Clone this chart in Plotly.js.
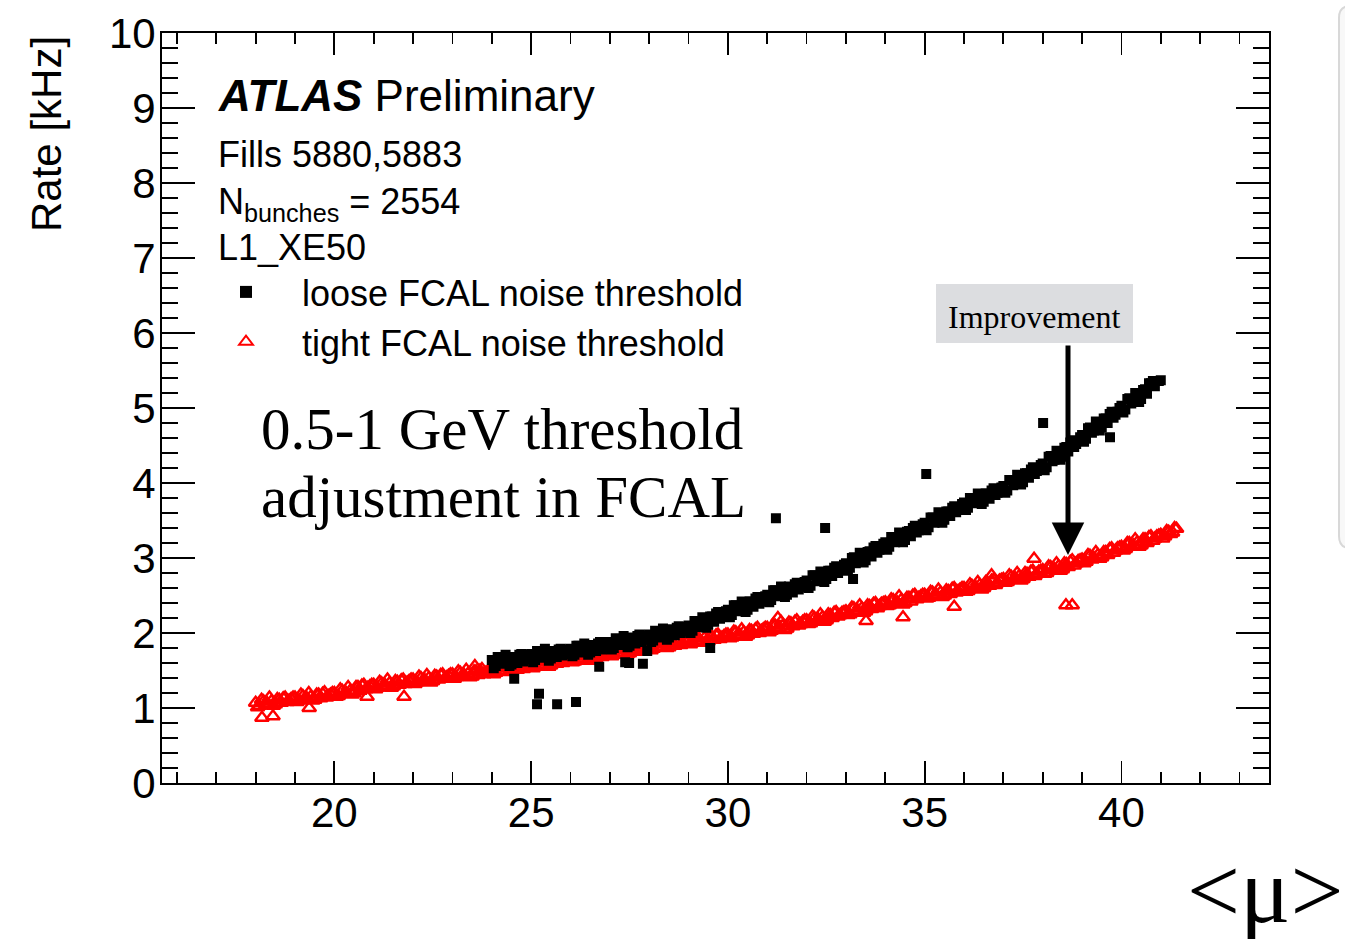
<!DOCTYPE html>
<html>
<head>
<meta charset="utf-8">
<script src="https://cdn.plot.ly/plotly-3.0.1.min.js"></script>
<style>
  html, body { margin: 0; padding: 0; background: #fff; }
  #chart { width: 1345px; height: 939px; }
</style>
</head>
<body>
<div id="chart"></div>
<script>
// L1_XE50 trigger rate versus average pile-up <mu>, fills 5880 and 5883.

// Tight FCAL noise threshold (red open triangles)
const tightMu = [
  18.0,18.1,18.2,18.3,18.4,18.5,18.6,18.7,18.8,18.9,
  19.0,19.1,19.2,19.3,19.4,19.5,19.6,19.7,19.8,19.9,
  20.0,20.1,20.2,20.3,20.4,20.5,20.6,20.7,20.8,20.9,
  21.0,21.1,21.2,21.3,21.4,21.5,21.6,21.7,21.8,21.9,
  22.0,22.1,22.2,22.3,22.4,22.5,22.6,22.7,22.8,22.9,
  23.0,23.1,23.2,23.3,23.4,23.5,23.6,23.7,23.8,23.9,
  24.0,24.1,24.2,24.3,24.4,24.5,24.6,24.7,24.8,24.9,
  25.0,25.1,25.2,25.3,25.4,25.5,25.6,25.7,25.8,25.9,
  26.0,26.1,26.2,26.3,26.4,26.5,26.6,26.7,26.8,26.9,
  27.0,27.1,27.2,27.3,27.4,27.5,27.6,27.7,27.8,27.9,
  28.0,28.1,28.2,28.3,28.4,28.5,28.6,28.7,28.8,28.9,
  29.0,29.1,29.2,29.3,29.4,29.5,29.6,29.7,29.8,29.9,
  30.0,30.1,30.2,30.3,30.4,30.5,30.6,30.7,30.8,30.9,
  31.0,31.1,31.2,31.3,31.4,31.5,31.6,31.7,31.8,31.9,
  32.0,32.1,32.2,32.3,32.4,32.5,32.6,32.7,32.8,32.9,
  33.0,33.1,33.2,33.3,33.4,33.5,33.6,33.7,33.8,33.9,
  34.0,34.1,34.2,34.3,34.4,34.5,34.6,34.7,34.8,34.9,
  35.0,35.1,35.2,35.3,35.4,35.5,35.6,35.7,35.8,35.9,
  36.0,36.1,36.2,36.3,36.4,36.5,36.6,36.7,36.8,36.9,
  37.0,37.1,37.2,37.3,37.4,37.5,37.6,37.7,37.8,37.9,
  38.0,38.1,38.2,38.3,38.4,38.5,38.6,38.7,38.8,38.9,
  39.0,39.1,39.2,39.3,39.4,39.5,39.6,39.7,39.8,39.9,
  40.0,40.1,40.2,40.3,40.4,40.5,40.6,40.7,40.8,40.9,
  41.0,41.1,41.2,41.3,41.4,
  18.05,18.15,18.25,18.35,18.45,18.55,18.65,18.75,18.85,18.95,
  19.05,19.15,19.25,19.35,19.45,19.55,19.65,19.75,19.85,19.95,
  20.05,20.15,20.25,20.35,20.45,20.55,20.65,20.75,20.85,20.95,
  21.05,21.15,21.25,21.35,21.45,21.55,21.65,21.75,21.85,21.95,
  22.05,22.15,22.25,22.35,22.45,22.55,22.65,22.75,22.85,22.95,
  23.05,23.15,23.25,23.35,23.45,23.55,23.65,23.75,23.85,23.95,
  24.05,24.15,24.25,24.35,24.45,24.55,24.65,24.75,24.85,24.95,
  25.05,25.15,25.25,25.35,25.45,25.55,25.65,25.75,25.85,25.95,
  26.05,26.15,26.25,26.35,26.45,26.55,26.65,26.75,26.85,26.95,
  27.05,27.15,27.25,27.35,27.45,27.55,27.65,27.75,27.85,27.95,
  28.05,28.15,28.25,28.35,28.45,28.55,28.65,28.75,28.85,28.95,
  29.05,29.15,29.25,29.35,29.45,29.55,29.65,29.75,29.85,29.95,
  30.05,30.15,30.25,30.35,30.45,30.55,30.65,30.75,30.85,30.95,
  31.05,31.15,31.25,31.35,31.45,31.55,31.65,31.75,31.85,31.95,
  32.05,32.15,32.25,32.35,32.45,32.55,32.65,32.75,32.85,32.95,
  33.05,33.15,33.25,33.35,33.45,33.55,33.65,33.75,33.85,33.95,
  34.05,34.15,34.25,34.35,34.45,34.55,34.65,34.75,34.85,34.95,
  35.05,35.15,35.25,35.35,35.45,35.55,35.65,35.75,35.85,35.95,
  36.05,36.15,36.25,36.35,36.45,36.55,36.65,36.75,36.85,36.95,
  37.05,37.15,37.25,37.35,37.45,37.55,37.65,37.75,37.85,37.95,
  38.05,38.15,38.25,38.35,38.45,38.55,38.65,38.75,38.85,38.95,
  39.05,39.15,39.25,39.35,39.45,39.55,39.65,39.75,39.85,39.95,
  40.05,40.15,40.25,40.35,40.45,40.55,40.65,40.75,40.85,40.95,
  41.05,41.15,41.25,41.35,
  18.16,18.44,19.36,20.83,21.77,23.57,31.27,33.51,34.45,35.75,36.70,37.78,38.59,38.75
];
const tightRate = [
  1.07,1.03,1.09,1.06,1.09,1.05,1.11,1.13,1.08,1.12,
  1.14,1.10,1.16,1.13,1.15,1.11,1.18,1.19,1.14,1.18,
  1.20,1.16,1.23,1.20,1.23,1.20,1.28,1.30,1.25,1.29,
  1.31,1.27,1.33,1.30,1.33,1.29,1.35,1.37,1.32,1.36,
  1.38,1.34,1.40,1.37,1.40,1.36,1.42,1.44,1.39,1.43,
  1.45,1.41,1.47,1.44,1.46,1.42,1.49,1.50,1.45,1.49,
  1.51,1.47,1.54,1.50,1.53,1.49,1.56,1.58,1.52,1.57,
  1.59,1.55,1.61,1.58,1.61,1.57,1.63,1.65,1.60,1.64,
  1.66,1.62,1.69,1.66,1.69,1.65,1.71,1.73,1.68,1.73,
  1.75,1.71,1.78,1.74,1.77,1.73,1.80,1.82,1.76,1.81,
  1.83,1.79,1.86,1.82,1.85,1.81,1.88,1.90,1.84,1.89,
  1.91,1.87,1.93,1.90,1.93,1.89,1.95,1.97,1.92,1.96,
  1.98,1.94,2.01,1.98,2.01,1.97,2.03,2.05,2.00,2.05,
  2.07,2.03,2.10,2.07,2.10,2.06,2.13,2.15,2.10,2.15,
  2.17,2.13,2.20,2.18,2.21,2.17,2.24,2.27,2.22,2.27,
  2.29,2.25,2.33,2.30,2.33,2.29,2.36,2.39,2.33,2.39,
  2.41,2.37,2.44,2.41,2.44,2.40,2.47,2.50,2.45,2.49,
  2.51,2.47,2.54,2.51,2.54,2.50,2.56,2.59,2.54,2.58,
  2.60,2.56,2.63,2.61,2.64,2.60,2.67,2.70,2.64,2.70,
  2.72,2.68,2.75,2.73,2.76,2.72,2.79,2.82,2.76,2.82,
  2.84,2.80,2.88,2.85,2.89,2.85,2.92,2.95,2.90,2.96,
  2.98,2.95,3.03,3.00,3.04,3.01,3.08,3.12,3.07,3.13,
  3.15,3.12,3.20,3.17,3.21,3.17,3.25,3.28,3.23,3.29,
  3.31,3.29,3.35,3.34,3.39,
  1.01,1.11,1.05,1.14,1.03,1.12,1.07,1.14,1.10,1.14,
  1.08,1.18,1.12,1.20,1.10,1.18,1.13,1.21,1.16,1.20,
  1.15,1.25,1.19,1.28,1.18,1.28,1.23,1.31,1.27,1.31,
  1.25,1.35,1.29,1.38,1.27,1.36,1.31,1.38,1.34,1.38,
  1.32,1.42,1.36,1.44,1.34,1.43,1.38,1.45,1.41,1.45,
  1.39,1.49,1.43,1.51,1.41,1.49,1.44,1.52,1.47,1.51,
  1.45,1.55,1.49,1.58,1.48,1.56,1.51,1.59,1.55,1.59,
  1.53,1.63,1.57,1.66,1.55,1.64,1.59,1.66,1.62,1.66,
  1.61,1.70,1.64,1.73,1.63,1.72,1.67,1.75,1.71,1.75,
  1.69,1.79,1.73,1.82,1.72,1.80,1.75,1.83,1.79,1.83,
  1.77,1.87,1.81,1.90,1.80,1.88,1.83,1.91,1.87,1.91,
  1.85,1.95,1.89,1.98,1.87,1.96,1.91,1.98,1.94,1.98,
  1.93,2.02,1.96,2.05,1.95,2.04,1.99,2.07,2.03,2.07,
  2.01,2.11,2.05,2.15,2.04,2.14,2.09,2.17,2.12,2.17,
  2.12,2.22,2.16,2.25,2.15,2.25,2.20,2.28,2.24,2.28,
  2.24,2.34,2.28,2.37,2.27,2.37,2.32,2.40,2.36,2.40,
  2.36,2.45,2.39,2.49,2.38,2.47,2.42,2.51,2.47,2.51,
  2.46,2.55,2.49,2.58,2.48,2.57,2.52,2.60,2.56,2.60,
  2.55,2.65,2.59,2.68,2.58,2.68,2.63,2.71,2.67,2.71,
  2.67,2.77,2.71,2.80,2.70,2.80,2.75,2.83,2.79,2.83,
  2.79,2.89,2.84,2.93,2.83,2.93,2.88,2.97,2.93,2.97,
  2.93,3.04,2.98,3.08,2.99,3.08,3.04,3.13,3.10,3.14,
  3.10,3.20,3.15,3.25,3.15,3.25,3.20,3.29,3.26,3.30,
  3.26,3.36,3.32,3.40,
  0.87,0.89,1.00,1.15,1.15,1.56,2.20,2.16,2.21,2.35,2.77,2.99,2.37,2.37
];

// Loose FCAL noise threshold (black squares)
const looseMu = [
  24.0,24.1,24.2,24.3,24.4,24.5,24.6,24.7,24.8,24.9,
  25.0,25.1,25.2,25.3,25.4,25.5,25.6,25.7,25.8,25.9,
  26.0,26.1,26.2,26.3,26.4,26.5,26.6,26.7,26.8,26.9,
  27.0,27.1,27.2,27.3,27.4,27.5,27.6,27.7,27.8,27.9,
  28.0,28.1,28.2,28.3,28.4,28.5,28.6,28.7,28.8,28.9,
  29.0,29.1,29.2,29.3,29.4,29.5,29.6,29.7,29.8,29.9,
  30.0,30.1,30.2,30.3,30.4,30.5,30.6,30.7,30.8,30.9,
  31.0,31.1,31.2,31.3,31.4,31.5,31.6,31.7,31.8,31.9,
  32.0,32.1,32.2,32.3,32.4,32.5,32.6,32.7,32.8,32.9,
  33.0,33.1,33.2,33.3,33.4,33.5,33.6,33.7,33.8,33.9,
  34.0,34.1,34.2,34.3,34.4,34.5,34.6,34.7,34.8,34.9,
  35.0,35.1,35.2,35.3,35.4,35.5,35.6,35.7,35.8,35.9,
  36.0,36.1,36.2,36.3,36.4,36.5,36.6,36.7,36.8,36.9,
  37.0,37.1,37.2,37.3,37.4,37.5,37.6,37.7,37.8,37.9,
  38.0,38.1,38.2,38.3,38.4,38.5,38.6,38.7,38.8,38.9,
  39.0,39.1,39.2,39.3,39.4,39.5,39.6,39.7,39.8,39.9,
  40.0,40.1,40.2,40.3,40.4,40.5,40.6,40.7,40.8,40.9,
  41.0,
  24.05,24.15,24.25,24.35,24.45,24.55,24.65,24.75,24.85,24.95,
  25.05,25.15,25.25,25.35,25.45,25.55,25.65,25.75,25.85,25.95,
  26.05,26.15,26.25,26.35,26.45,26.55,26.65,26.75,26.85,26.95,
  27.05,27.15,27.25,27.35,27.45,27.55,27.65,27.75,27.85,27.95,
  28.05,28.15,28.25,28.35,28.45,28.55,28.65,28.75,28.85,28.95,
  29.05,29.15,29.25,29.35,29.45,29.55,29.65,29.75,29.85,29.95,
  30.05,30.15,30.25,30.35,30.45,30.55,30.65,30.75,30.85,30.95,
  31.05,31.15,31.25,31.35,31.45,31.55,31.65,31.75,31.85,31.95,
  32.05,32.15,32.25,32.35,32.45,32.55,32.65,32.75,32.85,32.95,
  33.05,33.15,33.25,33.35,33.45,33.55,33.65,33.75,33.85,33.95,
  34.05,34.15,34.25,34.35,34.45,34.55,34.65,34.75,34.85,34.95,
  35.05,35.15,35.25,35.35,35.45,35.55,35.65,35.75,35.85,35.95,
  36.05,36.15,36.25,36.35,36.45,36.55,36.65,36.75,36.85,36.95,
  37.05,37.15,37.25,37.35,37.45,37.55,37.65,37.75,37.85,37.95,
  38.05,38.15,38.25,38.35,38.45,38.55,38.65,38.75,38.85,38.95,
  39.05,39.15,39.25,39.35,39.45,39.55,39.65,39.75,39.85,39.95,
  40.05,40.15,40.25,40.35,40.45,40.55,40.65,40.75,40.85,40.95,
  24.57,25.15,25.20,25.66,26.14,26.73,27.39,27.49,27.84,27.95,29.55,31.22,32.47,33.18,35.04,38.01,39.71
];
const looseRate = [
  1.64,1.56,1.68,1.60,1.64,1.58,1.68,1.71,1.62,1.67,
  1.72,1.64,1.75,1.68,1.72,1.66,1.75,1.78,1.70,1.74,
  1.79,1.71,1.83,1.76,1.80,1.74,1.83,1.86,1.78,1.83,
  1.88,1.80,1.92,1.85,1.89,1.83,1.93,1.96,1.88,1.93,
  1.98,1.90,2.02,1.96,2.00,1.94,2.04,2.07,2.00,2.05,
  2.10,2.03,2.16,2.10,2.15,2.11,2.22,2.26,2.19,2.25,
  2.31,2.24,2.37,2.31,2.36,2.31,2.42,2.46,2.39,2.45,
  2.51,2.44,2.57,2.51,2.56,2.51,2.61,2.65,2.58,2.64,
  2.70,2.63,2.77,2.71,2.76,2.72,2.83,2.87,2.80,2.87,
  2.93,2.87,3.01,2.95,3.01,2.97,3.09,3.14,3.07,3.14,
  3.21,3.15,3.28,3.23,3.28,3.24,3.36,3.40,3.34,3.40,
  3.47,3.41,3.54,3.49,3.55,3.51,3.62,3.67,3.61,3.67,
  3.74,3.67,3.80,3.75,3.80,3.75,3.86,3.90,3.84,3.90,
  3.96,3.90,4.04,3.99,4.05,4.01,4.13,4.18,4.12,4.19,
  4.26,4.21,4.36,4.31,4.38,4.35,4.48,4.54,4.48,4.56,
  4.64,4.59,4.74,4.70,4.77,4.74,4.86,4.92,4.87,4.95,
  5.03,4.98,5.13,5.08,5.15,5.12,5.25,5.33,5.36,5.36,
  5.37,
  1.53,1.68,1.59,1.71,1.56,1.68,1.60,1.72,1.65,1.71,
  1.61,1.76,1.67,1.79,1.63,1.76,1.68,1.79,1.72,1.78,
  1.69,1.83,1.74,1.86,1.71,1.84,1.76,1.88,1.81,1.87,
  1.78,1.93,1.84,1.96,1.81,1.94,1.86,1.98,1.91,1.97,
  1.88,2.03,1.94,2.06,1.91,2.05,1.97,2.09,2.02,2.08,
  2.00,2.16,2.08,2.21,2.07,2.22,2.15,2.28,2.22,2.29,
  2.21,2.37,2.29,2.42,2.28,2.42,2.35,2.48,2.42,2.49,
  2.41,2.57,2.49,2.62,2.48,2.62,2.54,2.67,2.61,2.68,
  2.60,2.77,2.69,2.82,2.68,2.83,2.76,2.89,2.84,2.91,
  2.83,3.00,2.93,3.07,2.94,3.08,3.02,3.16,3.11,3.19,
  3.11,3.28,3.21,3.34,3.21,3.35,3.29,3.43,3.37,3.45,
  3.37,3.54,3.47,3.61,3.47,3.62,3.56,3.69,3.64,3.72,
  3.64,3.80,3.73,3.86,3.72,3.86,3.79,3.93,3.87,3.94,
  3.87,4.04,3.97,4.11,3.98,4.13,4.07,4.21,4.16,4.24,
  4.17,4.35,4.29,4.43,4.31,4.47,4.42,4.57,4.52,4.61,
  4.55,4.73,4.67,4.82,4.70,4.86,4.80,4.95,4.91,5.00,
  4.94,5.12,5.06,5.20,5.08,5.24,5.19,5.33,5.29,5.36,
  1.39,1.05,1.19,1.05,1.08,1.55,1.61,1.60,1.59,1.76,1.80,3.53,3.40,2.72,4.12,4.80,4.61
];

const xTickVals = [20, 25, 30, 35, 40];
const yTickVals = [0, 1, 2, 3, 4, 5, 6, 7, 8, 9, 10];

const SANS = 'Liberation Sans, Arial, Helvetica, sans-serif';
const SERIF = 'Liberation Serif, Times New Roman, Times, serif';

const traces = [
  {
    type: 'scatter', mode: 'markers', name: 'tight FCAL noise threshold',
    x: tightMu, y: tightRate, legendrank: 2,
    marker: { symbol: 'triangle-up-open', size: 12, color: '#ff0000', line: { color: '#ff0000', width: 2.4 } },
    hoverinfo: 'skip', cliponaxis: true
  },
  {
    type: 'scatter', mode: 'markers', name: 'loose FCAL noise threshold',
    x: looseMu, y: looseRate, legendrank: 1,
    marker: { symbol: 'square', size: 10, color: '#000000', line: { width: 0 } },
    hoverinfo: 'skip', cliponaxis: true
  }
];

// helpers: pixel position on the page -> paper fraction
const PL = 162, PR = 1269, PT = 33, PB = 783;
const px = v => (v - PL) / (PR - PL);
const py = v => (PB - v) / (PB - PT);

const axisCommon = {
  showgrid: false, zeroline: false, showline: true,
  linecolor: '#000', linewidth: 2, mirror: 'allticks',
  ticks: 'inside', tickwidth: 1.8, tickcolor: '#000',
  tickfont: { family: SANS, size: 42, color: '#000' },
  fixedrange: true
};

const layout = {
  width: 1345, height: 939,
  margin: { l: PL, r: 1345 - PR, t: PT, b: 939 - PB, pad: 0 },
  paper_bgcolor: '#ffffff', plot_bgcolor: '#ffffff',
  showlegend: true,
  legend: {
    x: px(190), y: py(262), xanchor: 'left', yanchor: 'top',
    bgcolor: 'rgba(0,0,0,0)', borderwidth: 0,
    font: { family: SANS, size: 36, color: '#000' },
    itemwidth: 102, traceorder: 'normal', itemsizing: 'constant'
  },
  xaxis: Object.assign({}, axisCommon, {
    range: [15.62, 43.75], tickmode: 'array', tickvals: xTickVals,
    ticklen: 22, ticklabelstandoff: -8,
    minor: { ticks: 'inside', ticklen: 11, tickwidth: 1.8, tickcolor: '#000', dtick: 1, tick0: 0, showgrid: false }
  }),
  yaxis: Object.assign({}, axisCommon, {
    range: [0, 10], tickmode: 'array', tickvals: yTickVals,
    ticklen: 33, ticklabelstandoff: -4,
    minor: { ticks: 'inside', ticklen: 16, tickwidth: 1.8, tickcolor: '#000', dtick: 0.2, tick0: 0, showgrid: false }
  }),
  shapes: [
    // grey label box behind "Improvement"
    { type: 'rect', xref: 'paper', yref: 'paper', x0: px(936), x1: px(1133), y0: py(343), y1: py(284),
      fillcolor: '#dcdde0', line: { width: 0 }, layer: 'below' },
    // side panel edge at the right border
    { type: 'path', xref: 'paper', yref: 'paper', layer: 'below',
      path: 'M ' + px(1352) + ',' + py(6) + ' L ' + px(1350) + ',' + py(6) +
            ' Q ' + px(1339) + ',' + py(6) + ' ' + px(1339) + ',' + py(18) +
            ' L ' + px(1339) + ',' + py(536) +
            ' Q ' + px(1339) + ',' + py(548) + ' ' + px(1350) + ',' + py(548) +
            ' L ' + px(1352) + ',' + py(548),
      fillcolor: '#f8f8f8', line: { color: '#d8d8d8', width: 2 } }
  ],
  annotations: [
    { xref: 'paper', yref: 'paper', x: px(216), y: py(95), xanchor: 'left', yanchor: 'middle', showarrow: false,
      text: '<b><i>ATLAS</i></b> Preliminary', font: { family: SANS, size: 44, color: '#000' } },
    { xref: 'paper', yref: 'paper', x: px(216), y: py(155), xanchor: 'left', yanchor: 'middle', showarrow: false,
      text: 'Fills 5880,5883', font: { family: SANS, size: 36, color: '#000' } },
    { xref: 'paper', yref: 'paper', x: px(216), y: py(204), xanchor: 'left', yanchor: 'middle', showarrow: false,
      text: 'N<sub>bunches</sub> = 2554', font: { family: SANS, size: 36, color: '#000' } },
    { xref: 'paper', yref: 'paper', x: px(216), y: py(248), xanchor: 'left', yanchor: 'middle', showarrow: false,
      text: 'L1_XE50', font: { family: SANS, size: 36, color: '#000' } },
    { xref: 'paper', yref: 'paper', x: px(259), y: py(429), xanchor: 'left', yanchor: 'middle', showarrow: false,
      text: '0.5-1 GeV threshold', font: { family: SERIF, size: 59, color: '#000' } },
    { xref: 'paper', yref: 'paper', x: px(259), y: py(497), xanchor: 'left', yanchor: 'middle', showarrow: false,
      text: 'adjustment in FCAL', font: { family: SERIF, size: 59, color: '#000' } },
    { xref: 'paper', yref: 'paper', x: px(1034.5), y: py(317), xanchor: 'center', yanchor: 'middle', showarrow: false,
      text: 'Improvement', font: { family: SERIF, size: 32, color: '#000' } },
    { xref: 'paper', yref: 'paper', x: px(1068), y: py(555), text: '', showarrow: true,
      ax: 0, ay: -211, arrowhead: 2, arrowsize: 1.3, arrowwidth: 5, arrowcolor: '#000' },
    { xref: 'paper', yref: 'paper', x: px(1265), y: py(890), xanchor: 'center', yanchor: 'middle', showarrow: false,
      text: '&lt;\u03bc&gt;', font: { family: SERIF, size: 94, color: '#000' } },
    { xref: 'paper', yref: 'paper', x: px(46), y: py(134), xanchor: 'center', yanchor: 'middle', showarrow: false,
      textangle: -90, text: 'Rate [kHz]', font: { family: SANS, size: 42, color: '#000' } }
  ]
};

Plotly.newPlot('chart', traces, layout, { displayModeBar: false, staticPlot: true });
</script>
</body>
</html>
